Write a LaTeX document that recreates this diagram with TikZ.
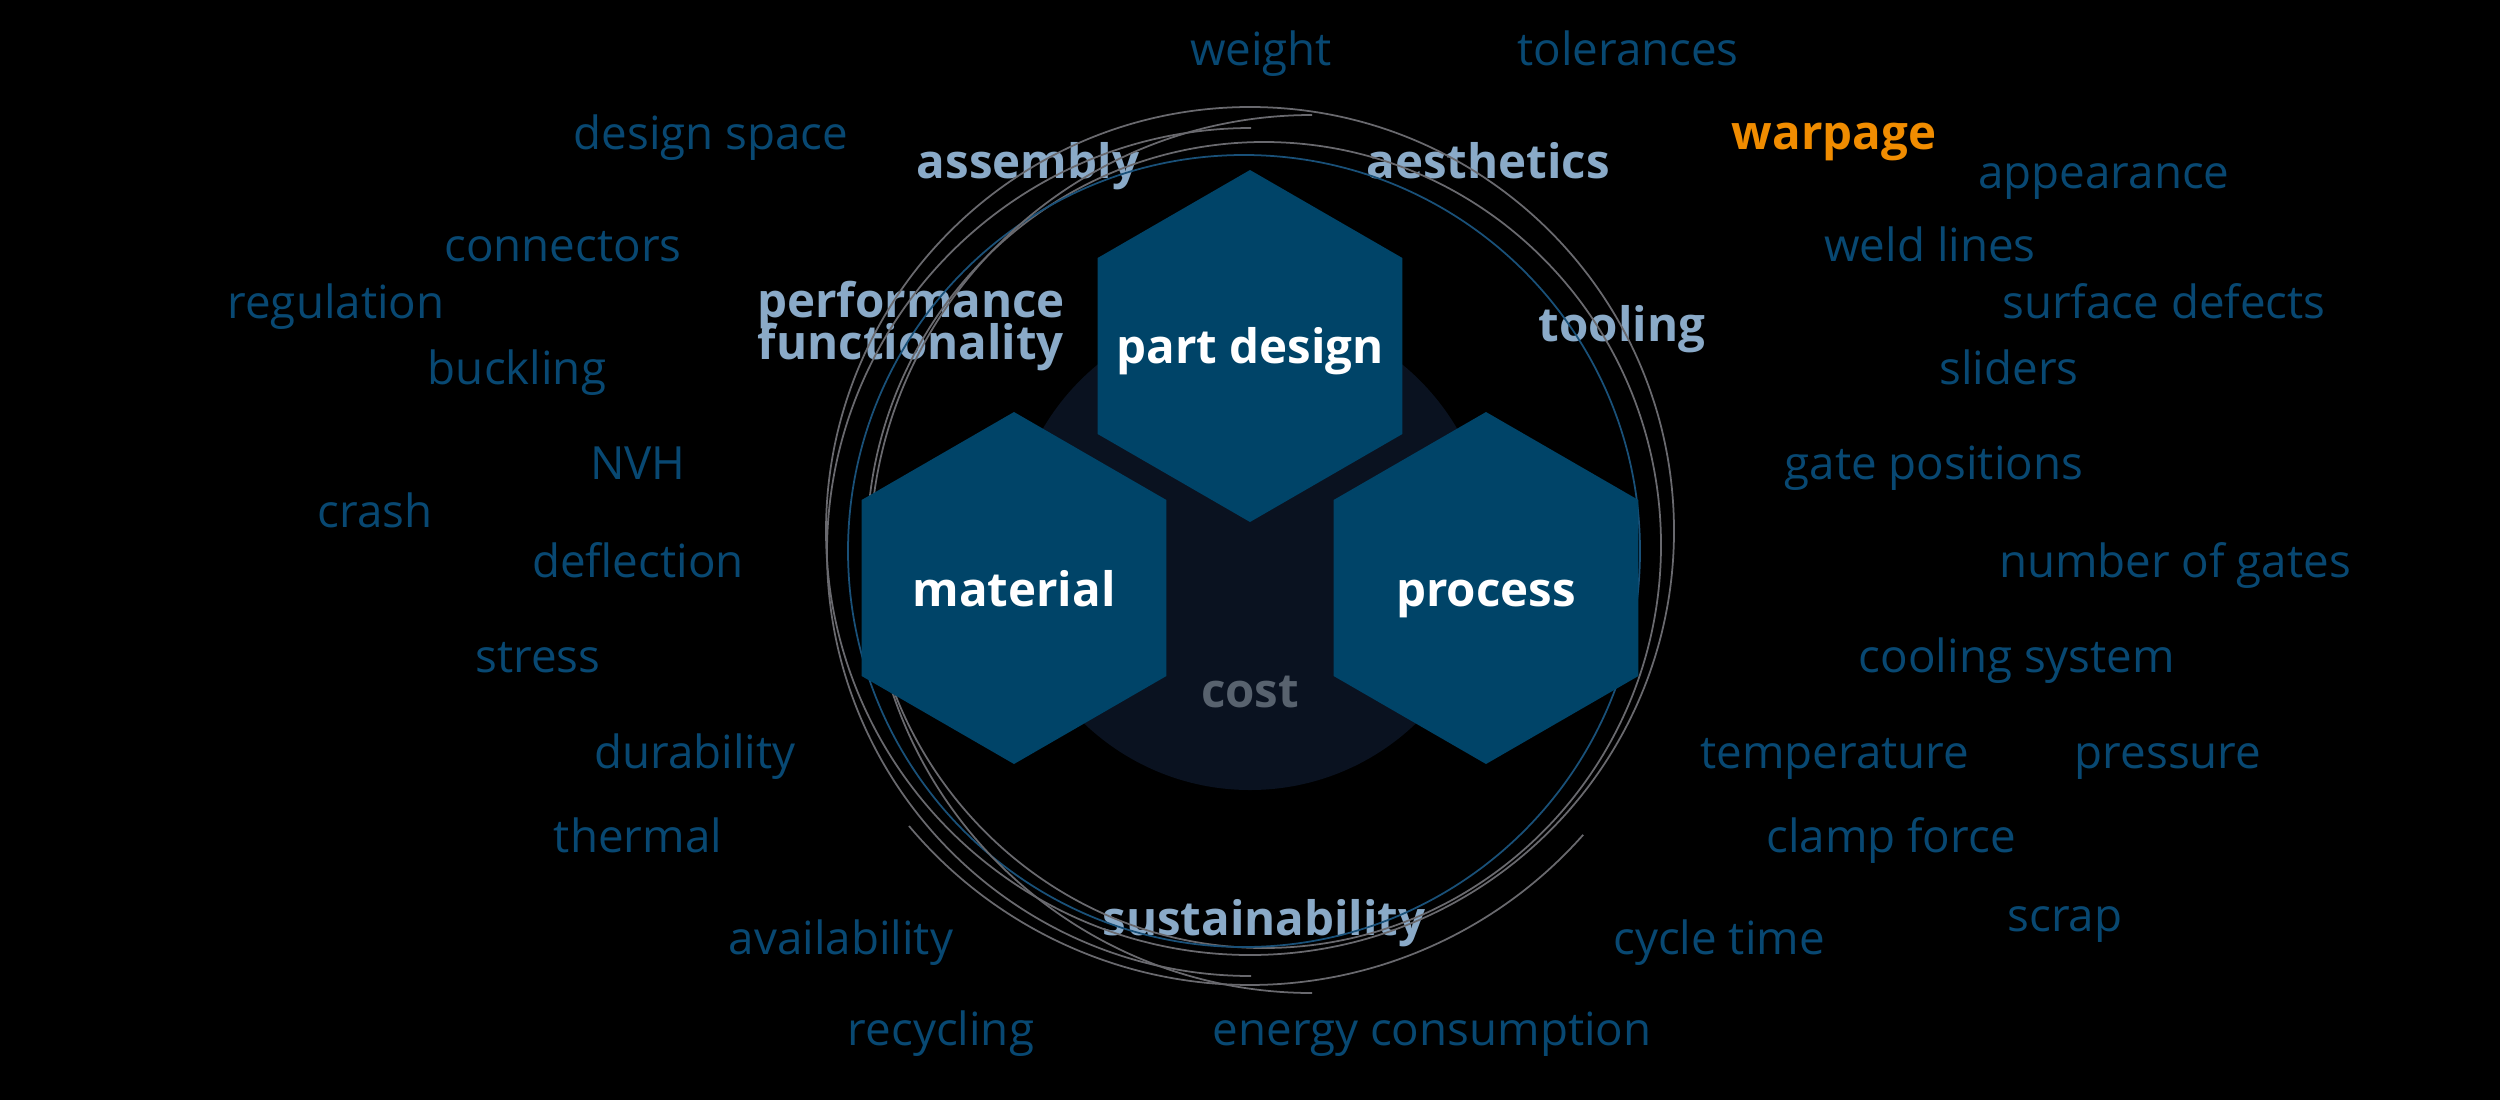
\documentclass[tikz,border=0pt]{standalone}
\usepackage{fontspec}
\setmainfont{Open Sans}

\definecolor{hexblue}{RGB}{0,68,104}
\definecolor{costbg}{RGB}{10,18,32}
\definecolor{wordblue}{RGB}{8,72,114}
\definecolor{keyblue}{RGB}{138,170,200}
\definecolor{costgray}{RGB}{88,98,110}
\definecolor{warporange}{RGB}{240,140,0}
\definecolor{ringgray}{RGB}{105,105,110}
\definecolor{ringblue}{RGB}{25,80,120}

\tikzset{
  hexcell/.style={fill=hexblue},
  hexlabel/.style={text=white, font=\bfseries\fontsize{13.5}{14}\selectfont,
    anchor=mid, inner sep=0pt},
  word/.style={text=wordblue, font=\fontsize{13}{15}\selectfont,
    anchor=mid, inner sep=0pt, yshift=-0.08cm},
  keyword/.style={text=keyblue, font=\bfseries\fontsize{13.5}{14}\selectfont,
    anchor=mid, inner sep=0pt, yshift=-0.08cm},
  ring/.style={draw=ringgray, line width=0.5pt},
}

\begin{document}
\begin{tikzpicture}[x=0.01cm, y=-0.01cm]
    \useasboundingbox (0,0) rectangle (2500,1100);
    \fill[black] (0,0) rectangle (2500,1100);

    % cost disc behind the three cells
    \fill[costbg] (1250,550) circle [radius=240];
    \node[keyword, text=costgray] (cost) at (1250,690) {cost};

    % inner ring of topics
    \node[keyword] (assembly) at (1028,161) {assembly};
    \node[keyword] (aesthetics) at (1488,161) {aesthetics};
    \node[keyword, anchor=center, align=center, yshift=0cm,
      font={\bfseries\fontsize{13.5}{11.8}\selectfont\lineskiplimit -20pt\relax}]
      (performance) at (911,318) {performance\\functionality};
    \node[keyword] (tooling) at (1622,324) {tooling};
    \node[keyword] (sustainability) at (1264,918) {sustainability};

    % outer words, left side
    \node[word] (designspace) at (711,132) {design space};
    \node[word] (connectors) at (563,244) {connectors};
    \node[word] (regulation) at (336,301) {regulation};
    \node[word] (buckling) at (517,367) {buckling};
    \node[word] (nvh) at (638,462) {NVH};
    \node[word] (crash) at (375,510) {crash};
    \node[word] (deflection) at (638,560) {deflection};
    \node[word] (stress) at (538,655) {stress};
    \node[word] (durability) at (695,751) {durability};
    \node[word] (thermal) at (638,835) {thermal};
    \node[word] (availability) at (841,937) {availability};
    \node[word] (recycling) at (941,1028) {recycling};

    % outer words, top and right side
    \node[word] (weight) at (1261,48) {weight};
    \node[word] (tolerances) at (1628,48) {tolerances};
    \node[keyword, text=warporange] (warpage) at (1834,132) {warpage};
    \node[word] (appearance) at (2104,171) {appearance};
    \node[word] (weldlines) at (1930,244) {weld lines};
    \node[word] (surfacedefects) at (2164,301) {surface defects};
    \node[word] (sliders) at (2009,367) {sliders};
    \node[word] (gatepositions) at (1934,462) {gate positions};
    \node[word] (numberofgates) at (2175,560) {number of gates};
    \node[word] (coolingsystem) at (2017,655) {cooling system};
    \node[word] (temperature) at (1835,751) {temperature};
    \node[word] (pressure) at (2168,751) {pressure};
    \node[word] (clampforce) at (1891,835) {clamp force};
    \node[word] (scrap) at (2065,914) {scrap};
    \node[word] (cycletime) at (1719,937) {cycle time};
    \node[word] (energy) at (1432,1028) {energy consumption};

    % hand drawn rings
    \draw[ring] (1250,531) circle [radius=424];
    \draw[ring] (1264,545) ellipse [x radius=397, y radius=403];
    \draw[ring, draw=ringblue] (1244,551) circle [radius=396];
    \draw[ring] (1251,128) arc [start angle=-90, end angle=-270, radius=424];
    \draw[ring] (1312,115) arc [start angle=-90, end angle=-270,
      x radius=442, y radius=439];
    \draw[ring] (909,826) arc [start angle=140, end angle=41.5, radius=445];

    % the three cells
    \fill[hexcell] (1250,170) -- (1402.4,258) -- (1402.4,434) -- (1250,522)
      -- (1097.6,434) -- (1097.6,258) -- cycle;
    \node[hexlabel] (partdesign) at (1250,354) {part design};
    \fill[hexcell] (1014,412) -- (1166.4,500) -- (1166.4,676) -- (1014,764)
      -- (861.6,676) -- (861.6,500) -- cycle;
    \node[hexlabel] (material) at (1014,597) {material};
    \fill[hexcell] (1486,412) -- (1638.4,500) -- (1638.4,676) -- (1486,764)
      -- (1333.6,676) -- (1333.6,500) -- cycle;
    \node[hexlabel] (process) at (1486,597) {process};
  \end{tikzpicture}
\end{document}
